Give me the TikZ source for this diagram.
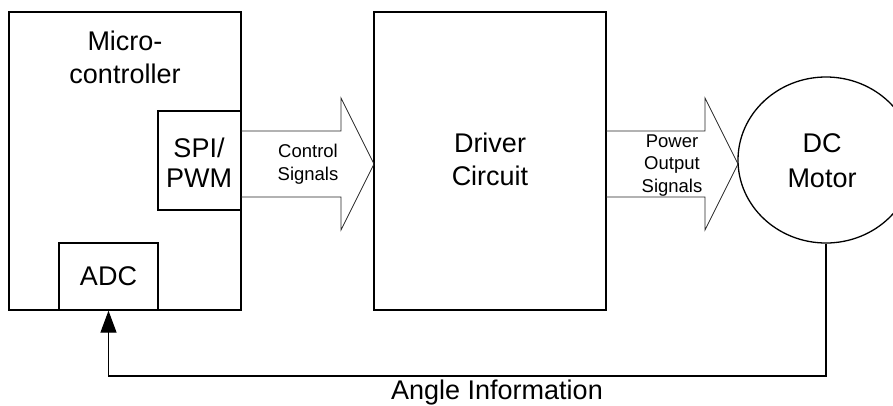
\documentclass[tikz,border=0pt]{standalone}
\usepackage{fontspec}
\setmainfont{Liberation Sans}
\usetikzlibrary{arrows.meta,calc,shapes.geometric}

\tikzset{
  block/.style={draw=black, line width=1.3pt, rectangle, inner sep=0pt},
  bigtext/.style={font=\fontsize{27}{33}\selectfont, align=center, anchor=base, inner sep=0pt},
  smalltext/.style={font=\fontsize{18.5}{22.5}\selectfont, align=center, anchor=base, inner sep=0pt},
  fatarrow/.style={draw=black!85, line width=0.8pt, line join=miter},
  feedback/.style={draw=black, line width=1.3pt, -{Triangle[length=22pt,width=16pt]}},
}

% open block arrow: shaft from x=#1 to the head base, tip at (#2,#3)
\newcommand{\fatarrowpath}[3]{%
  \draw[fatarrow] (#1,#3-33) -- (#2-33,#3-33) -- (#2-33,#3-66) -- (#2,#3)
    -- (#2-33,#3+66) -- (#2-33,#3+33) -- (#1,#3+33);}

\begin{document}
\begin{tikzpicture}[x=1pt,y=-1pt]
  \useasboundingbox (0,0) rectangle (893,405);

  % microcontroller with its two peripherals
  \node[block, minimum width=232pt, minimum height=298pt] (mcu) at (125,161) {};
  \node[bigtext] (mcutitle) at (125,83) {Micro-\\controller};
  \node[block, minimum width=83pt, minimum height=99pt] (spi) at (199.5,160.5) {};
  \node[bigtext, font=\fontsize{27}{30}\selectfont] (spitext) at (199,187) {SPI/\\PWM};
  \node[block, minimum width=99pt, minimum height=67pt] (adc) at (108.5,276.5) {};
  \node[bigtext] (adctext) at (108.5,285) {ADC};

  % driver stage
  \node[block, minimum width=232pt, minimum height=298pt] (drv) at (490,161) {};
  \node[bigtext] (drvtext) at (490,185) {Driver\\Circuit};

  % motor
  \node[draw=black, line width=1.3pt, ellipse, minimum width=176pt, minimum height=166pt, inner sep=0pt] (motor) at (826,160) {};
  \node[bigtext, font=\fontsize{27}{35}\selectfont] (motortext) at (822,187) {DC\\Motor};

  % control signals: SPI/PWM -> driver
  \fatarrowpath{241}{374}{164}
  \node[smalltext] (ctrl) at (308,180) {Control\\Signals};

  % power output: driver -> motor
  \fatarrowpath{606}{738}{164}
  \node[smalltext] (pwr) at (672,192) {Power\\Output\\Signals};

  % angle feedback from motor back to the ADC
  \coordinate (fbright) at (motor.south |- 0,376);
  \coordinate (fbleft) at (adc.south |- 0,376);
  \draw[feedback] (motor.south) -- (fbright) -- (fbleft) -- (adc.south);
  \node[bigtext] (angle) at (497,399) {Angle Information};
\end{tikzpicture}
\end{document}
